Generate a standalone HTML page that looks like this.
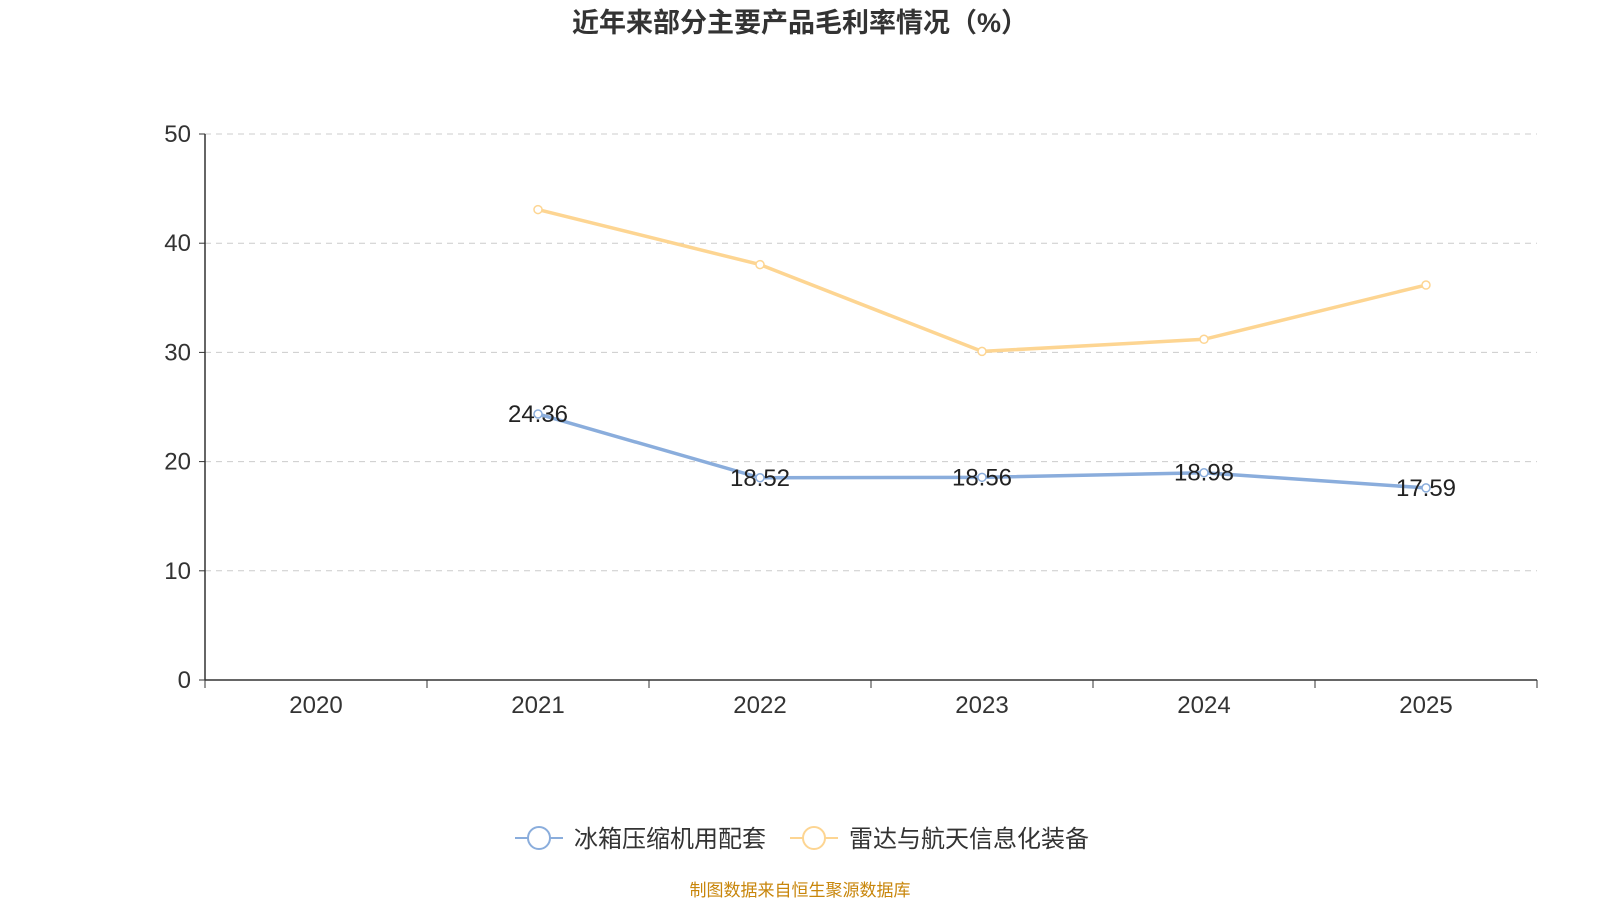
<!DOCTYPE html>
<html><head><meta charset="utf-8"><style>
body{margin:0;background:#fff;width:1600px;height:900px;overflow:hidden;font-family:"Liberation Sans","Noto Sans CJK SC",sans-serif;}
</style></head><body>
<svg id="chart" width="1600" height="900" xmlns="http://www.w3.org/2000/svg" font-family="Liberation Sans, Noto Sans CJK SC, sans-serif">
<text x="800" y="32" text-anchor="middle" font-size="27" font-weight="bold" fill="#333">近年来部分主要产品毛利率情况（%）</text>
<g id="grid"></g><g id="axes"></g><g id="series"></g>
<g>
<g>
<line x1="515" y1="838" x2="563" y2="838" stroke="#8aaddc" stroke-width="2"/>
<circle cx="539" cy="838" r="11" fill="#fff" stroke="#8aaddc" stroke-width="2"/>
<text x="574" y="847" font-size="24" fill="#333">冰箱压缩机用配套</text></g>
<g>
<line x1="790" y1="838" x2="838" y2="838" stroke="#fdd592" stroke-width="2"/>
<circle cx="814" cy="838" r="11" fill="#fff" stroke="#fdd592" stroke-width="2"/>
<text x="849" y="847" font-size="24" fill="#333">雷达与航天信息化装备</text></g>
</g>
<text x="800" y="896" text-anchor="middle" font-size="17" fill="#c8860b">制图数据来自恒生聚源数据库</text>
</svg>
<script>
const categories=["2020","2021","2022","2023","2024","2025"];
const fridgeValues=[null,24.36,18.52,18.56,18.98,17.59];
const radarValues=[null,43.08,38.04,30.09,31.2,36.17];
const yTicks=[0,10,20,30,40,50];
const NS="http://www.w3.org/2000/svg";
const L=205,R=1537,T=134,B=680;
const band=(R-L)/categories.length;
const xs=i=>L+band*(i+0.5);
const ys=v=>B-(v/50)*(B-T);
function mk(tag,attrs,parent,text){const e=document.createElementNS(NS,tag);for(const k in attrs)e.setAttribute(k,attrs[k]);if(text!=null)e.textContent=text;document.getElementById(parent).appendChild(e);return e;}
yTicks.forEach(t=>{
 if(t>0){const g=mk('line',{x1:L,x2:R,y1:ys(t),y2:ys(t),stroke:'#ccc','stroke-dasharray':'6,5'},'grid');
 
 }
 const tk=mk('line',{x1:L-6,x2:L,y1:ys(t),y2:ys(t),stroke:'#333'},'axes');
 
 
 const lb=mk('text',{x:L-14,y:ys(t)+8,'text-anchor':'end','font-size':24,fill:'#333'},'axes',t);
 
 
});
const ya=mk('line',{x1:L,x2:L,y1:T,y2:B,stroke:'#333','stroke-width':1.5},'axes');


const xa=mk('line',{x1:L,x2:R,y1:B,y2:B,stroke:'#333','stroke-width':1.5},'axes');


for(let i=0;i<=categories.length;i++){const x=L+band*i;const tk=mk('line',{x1:x,x2:x,y1:B,y2:B+8,stroke:'#333'},'axes');
 
 }
categories.forEach((c,i)=>{const t=mk('text',{x:xs(i),y:B+33,'text-anchor':'middle','font-size':24,fill:'#333'},'axes',c);
 
 });
function drawSeries(vals,color,name,labels){
 const pts=vals.map((v,i)=>v==null?null:[xs(i),ys(v)]).filter(p=>p);
 const pl=mk('polyline',{points:pts.map(p=>p.join(',')).join(' '),fill:'none',stroke:color,'stroke-width':3.5},'series');
 
 
 vals.forEach((v,i)=>{if(v==null)return;
  const c=mk('circle',{cx:xs(i),cy:ys(v),r:4,fill:'#fff',stroke:color,'stroke-width':1.5},'series');
  
  
  if(labels){const t=mk('text',{x:xs(i),y:ys(v)+8,'text-anchor':'middle','font-size':24,fill:'#222'},'series',v.toFixed(2));
  
  }
 });
}
drawSeries(radarValues,'#fdd592','radar',false);
drawSeries(fridgeValues,'#8aaddc','fridge',true);
</script>
</body></html>
